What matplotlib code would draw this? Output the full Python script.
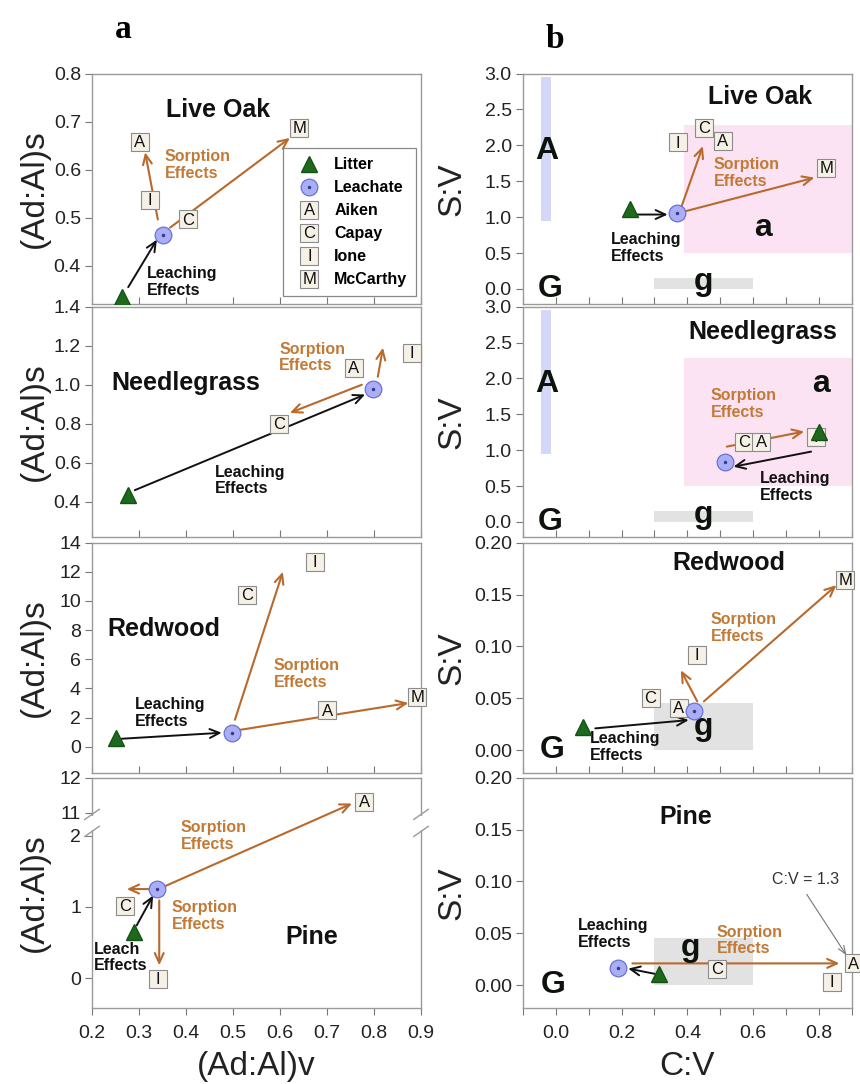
import numpy as np
import matplotlib
matplotlib.use('Agg')
import matplotlib.pyplot as plt
from matplotlib.lines import Line2D
from matplotlib.text import Text
from matplotlib.legend_handler import HandlerBase, HandlerTuple
from matplotlib.ticker import FormatStrFormatter, MultipleLocator, FixedLocator

plt.rcParams['font.family'] = ['Liberation Sans', 'DejaVu Sans']

# ======================= DATA =======================
# ---- column a : (Ad:Al)v (x) vs (Ad:Al)s (y) ----
a_liveoak_litter = [0.264, 0.334]
a_liveoak_leachate = [0.351, 0.464]
a_liveoak_soil_labels = ['A', 'I', 'C', 'M']
a_liveoak_soil_x = [0.302, 0.323, 0.404, 0.641]
a_liveoak_soil_y = [0.657, 0.537, 0.496, 0.687]
a_liveoak_leach_arrow = [0.277, 0.355, 0.338, 0.454]
a_liveoak_sorb_arrows = [[0.340, 0.496, 0.313, 0.636],
                         [0.366, 0.479, 0.621, 0.666]]

a_needle_litter = [0.276, 0.436]
a_needle_leachate = [0.798, 0.980]
a_needle_soil_labels = ['C', 'A', 'I']
a_needle_soil_x = [0.598, 0.757, 0.881]
a_needle_soil_y = [0.800, 1.087, 1.164]
a_needle_leach_arrow = [0.291, 0.460, 0.781, 0.950]
a_needle_sorb_arrows = [[0.774, 1.000, 0.621, 0.856],
                        [0.808, 1.041, 0.819, 1.190]]

a_redwood_litter = [0.251, 0.60]
a_redwood_leachate = [0.498, 0.96]
a_redwood_soil_labels = ['C', 'I', 'A', 'M']
a_redwood_soil_x = [0.530, 0.674, 0.700, 0.892]
a_redwood_soil_y = [10.4, 12.7, 2.5, 3.4]
a_redwood_leach_arrow = [0.263, 0.55, 0.476, 0.96]
a_redwood_sorb_arrows = [[0.504, 1.85, 0.606, 12.0],
                         [0.515, 1.16, 0.873, 3.0]]

a_pine_litter = [0.289, 0.645]
a_pine_leachate = [0.338, 1.25]
a_pine_soil_labels = ['C', 'I', 'A']
a_pine_soil_x = [0.270, 0.340, 0.779]
a_pine_soil_y = [1.01, -0.01, 11.31]
a_pine_leach_arrow = [0.295, 0.74, 0.330, 1.16]
a_pine_sorb_arrows = [[0.322, 1.25, 0.274, 1.25],
                      [0.343, 1.09, 0.343, 0.18],
                      [0.355, 1.29, 0.753, 11.26]]

# ---- column b : C:V (x) vs S:V (y) ----
b_liveoak_litter = [0.227, 1.11]
b_liveoak_leachate = [0.367, 1.06]
b_liveoak_soil_labels = ['I', 'C', 'A', 'M']
b_liveoak_soil_x = [0.370, 0.450, 0.508, 0.822]
b_liveoak_soil_y = [2.04, 2.24, 2.06, 1.69]
b_liveoak_leach_arrow = [0.242, 1.036, 0.340, 1.036]
b_liveoak_sorb_arrows = [[0.380, 1.12, 0.447, 1.99],
                         [0.392, 1.08, 0.786, 1.55]]

b_needle_litter = [0.800, 1.25]
b_needle_leachate = [0.515, 0.83]
b_needle_soil_labels = ['C', 'A', 'I']
b_needle_soil_x = [0.573, 0.624, 0.790]
b_needle_soil_y = [1.11, 1.11, 1.19]
b_needle_leach_arrow = [0.776, 0.98, 0.540, 0.77]
b_needle_sorb_arrows = [[0.520, 1.05, 0.755, 1.26]]

b_redwood_litter = [0.083, 0.022]
b_redwood_leachate = [0.419, 0.038]
b_redwood_soil_labels = ['C', 'A', 'I', 'M']
b_redwood_soil_x = [0.288, 0.373, 0.428, 0.880]
b_redwood_soil_y = [0.050, 0.041, 0.092, 0.164]
b_redwood_leach_arrow = [0.120, 0.021, 0.404, 0.029]
b_redwood_sorb_arrows = [[0.430, 0.047, 0.380, 0.077],
                         [0.450, 0.047, 0.853, 0.159]]

b_pine_litter = [0.315, 0.011]
b_pine_leachate = [0.190, 0.017]
b_pine_soil_labels = ['C', 'I', 'A']
b_pine_soil_x = [0.490, 0.838, 0.905]
b_pine_soil_y = [0.016, 0.003, 0.021]
b_pine_leach_arrow = [0.300, 0.011, 0.220, 0.016]
b_pine_sorb_arrows = [[0.233, 0.021, 0.862, 0.021]]
b_pine_note_text = 'C:V = 1.3'
b_pine_note_tip = [0.883, 0.029]

# reference regions in C:V / S:V space  [x0, x1, y0, y1]
region_A = [-0.045, -0.015, 0.95, 2.95]
region_a = [0.39, 0.90, 0.50, 2.28]
region_g_wide = [0.30, 0.60, 0.00, 0.15]
region_g_narrow = [0.30, 0.60, 0.00, 0.045]

legend_labels = ['Litter', 'Leachate', 'Aiken', 'Capay', 'Ione', 'McCarthy']
legend_codes = ['A', 'C', 'I', 'M']
vegetation = ['Live Oak', 'Needlegrass', 'Redwood', 'Pine']

# ======================= STYLE =======================
GREEN = '#1d6a1d'
CIRC_FC = '#a9aef5'
CIRC_EC = '#6b70d8'
ORANGE = '#b8692b'
ORANGE_T = '#c27a36'
BOX_FC = '#f5f1e6'
BOX_EC = '#8c8c8c'
SPINE = '#9a9a9a'
COL_A = '#d5d7f8'
COL_a = '#fbe3f3'
COL_g = '#e2e2e2'
TICK_FS = 14
LABEL_FS = 24

fig = plt.figure(figsize=(8.6, 10.84), dpi=100)

bottoms = [0.7196, 0.5046, 0.2869, 0.0701]
H = 0.2125
LX, RX, W = 0.107, 0.608, 0.3826


class BoxLetter:
    def __init__(self, letter):
        self.letter = letter


class HandlerBoxLetter(HandlerBase):
    def create_artists(self, legend, orig_handle, xdescent, ydescent,
                       width, height, fontsize, trans):
        cx = width / 2 - xdescent
        cy = height / 2 - ydescent
        sq = Line2D([cx], [cy], marker='s', ms=13, mfc=BOX_FC, mec=BOX_EC,
                    mew=0.8, ls='none', transform=trans)
        tx = Text(cx, cy - 0.5, orig_handle.letter, ha='center', va='center',
                  fontsize=12, transform=trans, color='#111')
        return [sq, tx]


def style(ax, bottom_row):
    for s in ax.spines.values():
        s.set_color(SPINE)
        s.set_linewidth(1.0)
    ax.tick_params(axis='y', which='both', direction='out', length=5, width=0.8,
                   labelsize=TICK_FS, color='#777', labelcolor='#222', pad=3)
    ax.tick_params(axis='x', which='both', direction='out' if bottom_row else 'in',
                   length=5, width=0.8, labelsize=TICK_FS, color='#777',
                   labelcolor='#222', labelbottom=bottom_row, pad=7)


def arrow(ax, a, color, lw=1.5):
    x0, y0, x1, y1 = a
    ax.annotate('', xy=(x1, y1), xytext=(x0, y0), zorder=2,
                arrowprops=dict(arrowstyle='->,head_length=0.7,head_width=0.32',
                                color=color, lw=lw, shrinkA=0, shrinkB=0))


def draw_panel(ax, litter, leachate, labs, sx, sy, leach, sorbs):
    for s in sorbs:
        arrow(ax, s, ORANGE)
    arrow(ax, leach, '#111111', lw=1.4)
    ax.plot(sx, sy, 's', ms=13, mfc=BOX_FC, mec=BOX_EC, mew=0.8, ls='none',
            zorder=3, clip_on=False)
    for lab, x, y in zip(labs, sx, sy):
        ax.annotate(lab, (x, y), xytext=(0, -0.5), textcoords='offset points',
                    ha='center', va='center', fontsize=12, color='#111',
                    zorder=4, annotation_clip=False)
    ax.plot([litter[0]], [litter[1]], '^', ms=11.5, color=GREEN, mec='#145214',
            zorder=5)
    ax.plot([leachate[0]], [leachate[1]], 'o', ms=12, mfc=CIRC_FC, mec=CIRC_EC,
            mew=0.9, zorder=5)
    ax.plot([leachate[0]], [leachate[1]], 'o', ms=1.5, color='#3a3a8a', zorder=6)


def effects(ax, x, y, txt, color):
    ax.text(x, y, txt, ha='left', va='center', fontsize=11.5, fontweight='bold',
            color=color, linespacing=1.15, zorder=4)


def title(ax, x, y, txt):
    ax.text(x, y, txt, ha='center', va='center', fontsize=18, fontweight='bold',
            color='#111', zorder=4)


def big(ax, x, y, txt):
    ax.text(x, y, txt, ha='center', va='center', fontsize=23, fontweight='bold',
            color='#0d120d', zorder=4)


# ---------------- column a ----------------
axL = [fig.add_axes([LX, b, W, H]) for b in bottoms]
for i, ax in enumerate(axL):
    ax.set_xlim(0.2, 0.9)
    ax.xaxis.set_major_locator(MultipleLocator(0.1))
    ax.xaxis.set_major_formatter(FormatStrFormatter('%.1f'))
    style(ax, i == 3)
    ax.set_ylabel('(Ad:Al)s', fontsize=LABEL_FS, color='#222')
    ax.yaxis.set_label_coords(-0.128, 0.5)

# Live Oak
ax = axL[0]
ax.set_ylim(0.32, 0.8)
ax.yaxis.set_major_locator(FixedLocator([0.4, 0.5, 0.6, 0.7, 0.8]))
ax.yaxis.set_major_formatter(FormatStrFormatter('%.1f'))
draw_panel(ax, a_liveoak_litter, a_liveoak_leachate, a_liveoak_soil_labels,
           a_liveoak_soil_x, a_liveoak_soil_y, a_liveoak_leach_arrow,
           a_liveoak_sorb_arrows)
title(ax, 0.468, 0.725, vegetation[0])
effects(ax, 0.355, 0.61, 'Sorption\nEffects', ORANGE_T)
effects(ax, 0.317, 0.366, 'Leaching\nEffects', '#111')
h_litter = Line2D([], [], marker='^', ms=11.5, color=GREEN, mec='#145214', ls='none')
h_leach = (Line2D([], [], marker='o', ms=12, mfc=CIRC_FC, mec=CIRC_EC, mew=0.9, ls='none'),
           Line2D([], [], marker='o', ms=1.5, color='#3a3a8a', ls='none'))
handles = [h_litter, h_leach] + [BoxLetter(c) for c in legend_codes]
leg = ax.legend(handles, legend_labels, loc='upper right', bbox_to_anchor=(0.985, 0.675),
                handler_map={BoxLetter: HandlerBoxLetter(), tuple: HandlerTuple(ndivide=1)},
                prop={'weight': 'bold', 'size': 11.5}, frameon=True, fancybox=False,
                edgecolor='#888', framealpha=1, handlelength=2.2, handletextpad=0.45,
                labelspacing=0.5, borderpad=0.55, borderaxespad=0)
leg.get_frame().set_linewidth(0.9)
leg.set_zorder(7)

# Needlegrass
ax = axL[1]
ax.set_ylim(0.22, 1.4)
ax.yaxis.set_major_locator(FixedLocator([0.4, 0.6, 0.8, 1.0, 1.2, 1.4]))
ax.yaxis.set_major_formatter(FormatStrFormatter('%.1f'))
draw_panel(ax, a_needle_litter, a_needle_leachate, a_needle_soil_labels,
           a_needle_soil_x, a_needle_soil_y, a_needle_leach_arrow,
           a_needle_sorb_arrows)
title(ax, 0.40, 1.01, vegetation[1])
effects(ax, 0.598, 1.14, 'Sorption\nEffects', ORANGE_T)
effects(ax, 0.462, 0.51, 'Leaching\nEffects', '#111')

# Redwood
ax = axL[2]
ax.set_ylim(-1.8, 14)
ax.yaxis.set_major_locator(FixedLocator(list(range(0, 15, 2))))
draw_panel(ax, a_redwood_litter, a_redwood_leachate, a_redwood_soil_labels,
           a_redwood_soil_x, a_redwood_soil_y, a_redwood_leach_arrow,
           a_redwood_sorb_arrows)
title(ax, 0.352, 8.1, vegetation[2])
effects(ax, 0.586, 5.0, 'Sorption\nEffects', ORANGE_T)
effects(ax, 0.291, 2.3, 'Leaching\nEffects', '#111')

# Pine (broken y axis through a piecewise scale)
BRK_LO, BRK_HI, UP_RATIO = 2.17, 10.69, 0.491
_xp = np.array([-1e3, BRK_LO, BRK_HI, 1e3])
_fp = np.array([-1e3, BRK_LO, BRK_LO + 1e-3, BRK_LO + 1e-3 + (1e3 - BRK_HI) * UP_RATIO])


def fwd(y):
    return np.interp(np.asarray(y, dtype=float), _xp, _fp)


def inv(v):
    return np.interp(np.asarray(v, dtype=float), _fp, _xp)


ax = axL[3]
ax.set_yscale('function', functions=(fwd, inv))
ax.set_ylim(-0.42, 12)
ax.yaxis.set_major_locator(FixedLocator([0, 1, 2, 11, 12]))
ax.yaxis.set_major_formatter(FormatStrFormatter('%d'))
ax.yaxis.set_minor_locator(FixedLocator([]))
draw_panel(ax, a_pine_litter, a_pine_leachate, a_pine_soil_labels,
           a_pine_soil_x, a_pine_soil_y, a_pine_leach_arrow, a_pine_sorb_arrows)
title(ax, 0.668, 0.58, vegetation[3])
effects(ax, 0.389, 2.0, 'Sorption\nEffects', ORANGE_T)
effects(ax, 0.370, 0.87, 'Sorption\nEffects', ORANGE_T)
effects(ax, 0.205, 0.29, 'Leach\nEffects', '#111')
ax.set_xlabel('(Ad:Al)v', fontsize=LABEL_FS, color='#222')
ax.xaxis.set_label_coords(0.5, -0.185)


def y_axes(ax, y):
    return ax.transAxes.inverted().transform(ax.transData.transform((0.5, y)))[1]


yb1, yb2 = y_axes(ax, 2.06), y_axes(ax, 10.95)
for xb in (0.0, 1.0):
    ax.fill_between([xb - 0.006, xb + 0.006], yb1 + 0.008, yb2 - 0.008,
                    transform=ax.transAxes, color='white', lw=0, zorder=3, clip_on=False)
    for yb in (yb1, yb2):
        ax.plot([xb - 0.022, xb + 0.022], [yb - 0.022, yb + 0.022], transform=ax.transAxes,
                color=SPINE, lw=1.0, clip_on=False, zorder=4)

# ---------------- column b ----------------
axR = [fig.add_axes([RX, b, W, H]) for b in bottoms]
for i, ax in enumerate(axR):
    ax.set_xlim(-0.1, 0.9)
    ax.xaxis.set_major_locator(MultipleLocator(0.2))
    ax.xaxis.set_minor_locator(MultipleLocator(0.1))
    ax.xaxis.set_major_formatter(FormatStrFormatter('%.1f'))
    style(ax, i == 3)
    ax.set_ylabel('S:V', fontsize=LABEL_FS, color='#222')
    ax.yaxis.set_label_coords(-0.167, 0.5)
    ax.fill_between(region_A[:2], region_A[2], region_A[3], color=COL_A, lw=0, zorder=0.5)
    ax.fill_between(region_a[:2], region_a[2], region_a[3], color=COL_a, lw=0, zorder=0.5)
    g = region_g_wide if i < 2 else region_g_narrow
    ax.fill_between(g[:2], g[2], g[3], color=COL_g, lw=0, zorder=0.5)

for ax in axR[:2]:
    ax.set_ylim(-0.21, 3.0)
    ax.yaxis.set_major_locator(MultipleLocator(0.5))
    ax.yaxis.set_major_formatter(FormatStrFormatter('%.1f'))
for ax in axR[2:]:
    ax.set_ylim(-0.022, 0.2)
    ax.yaxis.set_major_locator(MultipleLocator(0.05))
    ax.yaxis.set_major_formatter(FormatStrFormatter('%.2f'))

ax = axR[0]
draw_panel(ax, b_liveoak_litter, b_liveoak_leachate, b_liveoak_soil_labels,
           b_liveoak_soil_x, b_liveoak_soil_y, b_liveoak_leach_arrow,
           b_liveoak_sorb_arrows)
title(ax, 0.62, 2.67, vegetation[0])
effects(ax, 0.48, 1.62, 'Sorption\nEffects', ORANGE_T)
effects(ax, 0.166, 0.57, 'Leaching\nEffects', '#111')
big(ax, -0.027, 1.92, 'A')
big(ax, 0.63, 0.85, 'a')
big(ax, 0.45, 0.10, 'g')
big(ax, -0.017, 0.0, 'G')

ax = axR[1]
draw_panel(ax, b_needle_litter, b_needle_leachate, b_needle_soil_labels,
           b_needle_soil_x, b_needle_soil_y, b_needle_leach_arrow,
           b_needle_sorb_arrows)
title(ax, 0.63, 2.64, vegetation[1])
effects(ax, 0.47, 1.64, 'Sorption\nEffects', ORANGE_T)
effects(ax, 0.62, 0.49, 'Leaching\nEffects', '#111')
big(ax, -0.027, 1.92, 'A')
big(ax, 0.807, 1.92, 'a')
big(ax, 0.45, 0.10, 'g')
big(ax, -0.017, 0.0, 'G')

ax = axR[2]
draw_panel(ax, b_redwood_litter, b_redwood_leachate, b_redwood_soil_labels,
           b_redwood_soil_x, b_redwood_soil_y, b_redwood_leach_arrow,
           b_redwood_sorb_arrows)
title(ax, 0.526, 0.18, vegetation[2])
effects(ax, 0.47, 0.118, 'Sorption\nEffects', ORANGE_T)
effects(ax, 0.105, 0.003, 'Leaching\nEffects', '#111')
big(ax, 0.45, 0.022, 'g')
big(ax, -0.012, 0.0, 'G')

ax = axR[3]
draw_panel(ax, b_pine_litter, b_pine_leachate, b_pine_soil_labels,
           b_pine_soil_x, b_pine_soil_y, b_pine_leach_arrow, b_pine_sorb_arrows)
title(ax, 0.395, 0.162, vegetation[3])
effects(ax, 0.49, 0.043, 'Sorption\nEffects', ORANGE_T)
effects(ax, 0.068, 0.049, 'Leaching\nEffects', '#111')
big(ax, 0.41, 0.036, 'g')
big(ax, -0.008, 0.0, 'G')
ax.annotate(b_pine_note_text, xy=b_pine_note_tip, xytext=(0.758, 0.102),
            ha='center', va='center', fontsize=11.5, color='#333', zorder=4,
            arrowprops=dict(arrowstyle='->,head_length=0.5,head_width=0.2',
                            color='#777', lw=0.8, shrinkA=4, shrinkB=0,
                            relpos=(0.45, 0.0)))
ax.set_xlabel('C:V', fontsize=LABEL_FS, color='#222')
ax.xaxis.set_label_coords(0.5, -0.185)

# panel letters
fig.text(0.143, 0.973, 'a', fontsize=24, fontweight='bold', family='Liberation Serif',
         ha='center', va='center')
fig.text(0.645, 0.964, 'b', fontsize=24, fontweight='bold', family='Liberation Serif',
         ha='center', va='center')

fig.savefig('out.png', dpi=100)
